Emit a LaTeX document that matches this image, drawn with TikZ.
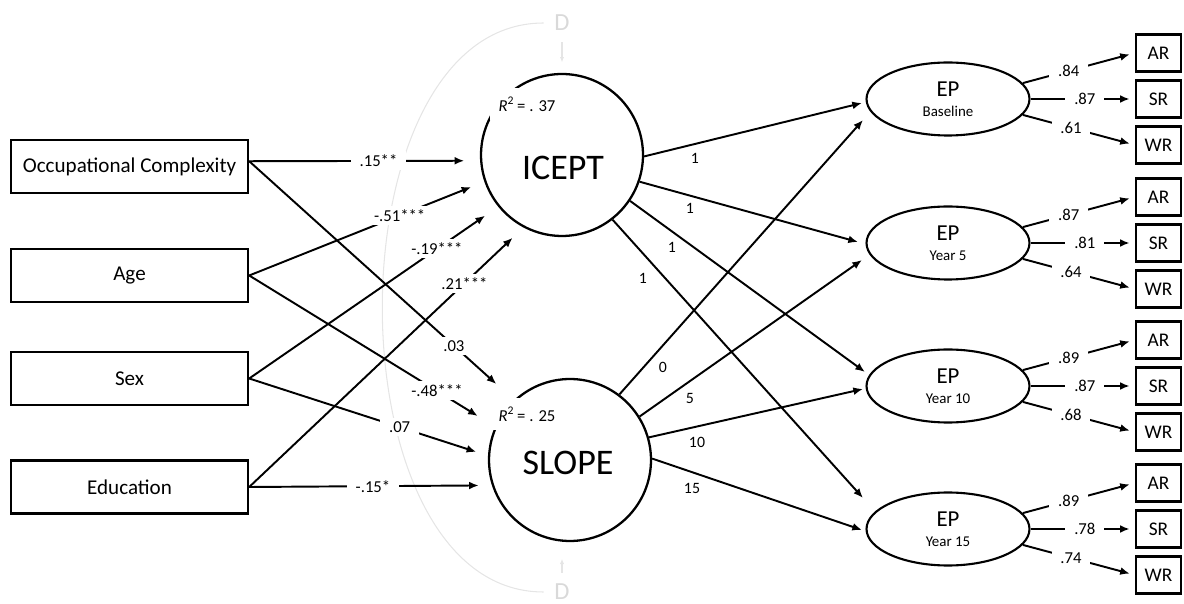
\documentclass[tikz,border=0pt]{standalone}
\usepackage{fontspec}
\setmainfont{Carlito}
\usetikzlibrary{shapes.geometric,arrows.meta,calc}
\begin{document}
\begin{tikzpicture}[x=0.02cm,y=-0.02cm,
  inbox/.style={draw, line width=1.4pt, minimum width=4.74cm, minimum height=1.06cm, inner sep=0pt, font=\fontsize{12}{14}\selectfont},
  lat/.style={circle, draw, line width=1.3pt, minimum size=3.24cm, inner sep=0pt},
  lattext/.style={font=\fontsize{20.5}{24}\selectfont, inner sep=0pt},
  ep/.style={ellipse, draw, line width=1.2pt, minimum width=3.26cm, minimum height=1.46cm, inner sep=0pt, align=center, font=\fontsize{13}{11.5}\selectfont},
  ind/.style={draw, line width=1.2pt, minimum width=0.9cm, minimum height=0.74cm, inner sep=0pt, font=\fontsize{11}{13}\selectfont},
  arr/.style={line width=1.1pt, -{Latex[length=5.5pt,width=4.5pt]}},
  coef/.style={fill=white, font=\fontsize{9.5}{11}\selectfont, inner xsep=5pt, inner ysep=2pt},
  slab/.style={font=\fontsize{9}{10}\selectfont, inner sep=1pt},
  rsq/.style={fill=white, font=\fontsize{9.5}{11}\selectfont, inner xsep=5pt, inner ysep=5pt},
  dlab/.style={text=black!15, font=\fontsize{14}{16}\selectfont, inner sep=6pt},
  dline/.style={draw=black!10, line width=0.6pt}
]
\useasboundingbox (0,0) rectangle (1184,604);

% disturbances
\node[dlab] (dtop) at (562,23) {D};
\node[dlab] (dbot) at (562,592) {D};
\draw[dline] (dtop.west) .. controls +(-215,0) and +(-215,0) .. (dbot.west);

% observed predictors
\node[inbox] (oc)  at (129.5,166.5) {Occupational Complexity};
\node[inbox] (age) at (129.5,275.5) {Age};
\node[inbox] (sex) at (129.5,378.5) {Sex};
\node[inbox] (edu) at (129.5,487) {Education};

% latent growth factors
\node[lat] (icept) at (562,155) {};
\node[lattext] (iceptt) at (563,168) {ICEPT};
\node[lat] (slope) at (570,460) {};
\node[lattext] (slopet) at (568,463) {SLOPE};

\draw[dline, -{Latex[length=3pt,width=2.5pt]}, shorten >=6pt] (dtop.south) -- (icept.north);
\draw[dline, -{Latex[length=3pt,width=2.5pt]}, shorten >=9.5pt] (dbot.north) -- (dbot.north |- slope.south);

% EP factors
\node[ep] (e0) at (948,99)  {EP\\{\fontsize{8.5}{10}\selectfont Baseline}};
\node[ep] (e1) at (948,243) {EP\\{\fontsize{8.5}{10}\selectfont Year 5}};
\node[ep] (e2) at (948,386) {EP\\{\fontsize{8.5}{10}\selectfont Year 10}};
\node[ep] (e3) at (948,529) {EP\\{\fontsize{8.5}{10}\selectfont Year 15}};

% indicators with loadings
\foreach \i/\c/\a/\s/\w in {0/99/.84/.87/.61, 1/243/.87/.81/.64, 2/386/.89/.87/.68, 3/529/.89/.78/.74}{
  \node[ind] (ar\i) at (1158.5,{\c-46}) {AR};
  \node[ind] (sr\i) at (1158.5,\c) {SR};
  \node[ind] (wr\i) at (1158.5,{\c+46}) {WR};
  \draw[arr, shorten >=3pt] (e\i.12) -- (ar\i.west) node[coef,pos=0.41]{\a};
  \draw[arr, shorten >=3pt] (e\i.east) -- (sr\i.west) node[coef,pos=0.52]{\s};
  \draw[arr, shorten >=3pt] (e\i.348) -- (wr\i.west) node[coef,pos=0.43]{\w};
}

% predictor paths
\draw[arr, shorten >=9pt] ([yshift=3pt]oc.east) -- (icept.184) node[coef,pos=0.56]{.15**};
\draw[arr, shorten >=8pt] (age.east) -- (icept.199) node[coef,pos=0.64]{-.51***};
\draw[arr, shorten >=9pt] (sex.east) -- (icept.219) node[coef,pos=0.754]{-.19***};
\draw[arr, shorten >=8.5pt] (edu.east) -- (icept.242) node[coef,pos=0.785]{.21***};
\draw[arr, shorten >=13.5pt] ([yshift=3pt]oc.east) -- (slope.133) node[coef,pos=0.773]{.03};
\draw[arr, shorten >=11.5pt] (age.east) -- (slope.156) node[coef,pos=0.764]{-.48***};
\draw[arr, shorten >=7pt] (sex.east) -- (slope.177) node[coef,pos=0.63]{.07};
\draw[arr, shorten >=7.5pt] (edu.east) -- (slope.198) node[coef,pos=0.51]{-.15*};

% growth loadings
\draw[arr] (icept.359) -- ($(e0.center)+(-86,4)$);
\draw[arr] (icept.341) -- ($(e1.center)+(-90,-1)$);
\draw[arr] (icept.326) -- ($(e2.center)+(-83,-14)$);
\draw[arr] (icept.308) -- ($(e3.center)+(-85,-31)$);
\draw[arr] (slope.53) -- ($(e0.center)+(-85,21)$);
\draw[arr] (slope.32) -- ($(e1.center)+(-86,17)$);
\draw[arr] (slope.16) -- ($(e2.center)+(-85,3)$);
\draw[arr] (slope.1)  -- ($(e3.center)+(-86,1)$);

\node[slab] (li0) at (695,158) {1};
\node[slab] (li1) at (690,208) {1};
\node[slab] (li2) at (672,247) {1};
\node[slab] (li3) at (643,278) {1};
\node[slab] (ls0) at (663,367) {0};
\node[slab] (ls1) at (690,398) {5};
\node[slab] (ls2) at (697,442) {10};
\node[slab] (ls3) at (692,488) {15};

% R squared
\node[rsq] (r1) at (527,104) {\textit{R}\textsuperscript{2}\,= . 37};
\node[rsq] (r2) at (527,414) {\textit{R}\textsuperscript{2}\,= . 25};
\end{tikzpicture}
\end{document}
